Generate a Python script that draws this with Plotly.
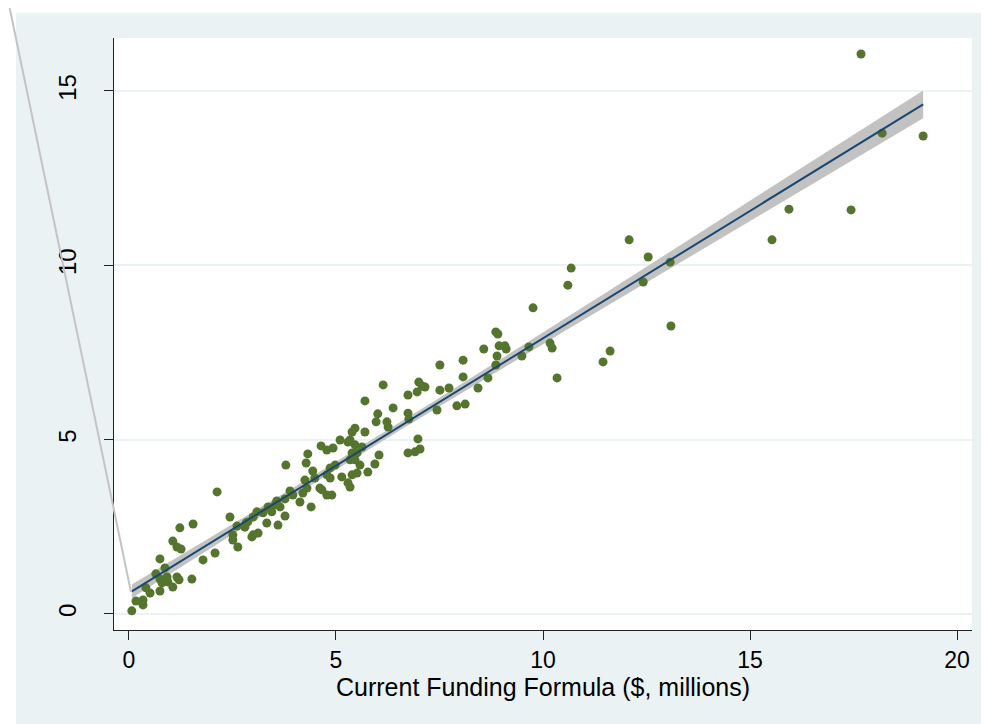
import numpy as np
import plotly.graph_objects as go

# Current Funding Formula ($, millions)
current_formula = [
    17.68, 18.19, 19.18, 15.94, 17.44, 15.53, 12.08, 12.54, 13.07, 12.42,
    13.09, 10.68, 10.60, 9.76, 10.17, 10.22, 11.62, 11.45, 10.34, 9.66,
    9.49, 8.86, 8.91, 8.57, 8.94, 9.08, 9.11, 8.89, 8.86, 7.51,
    8.07, 8.07, 8.67, 8.43, 7.51, 7.73, 7.92, 8.12, 7.44, 7.08,
    7.15, 7.00, 6.96, 6.74, 6.14, 5.70, 6.38, 6.74, 6.76, 6.01,
    5.97, 6.23, 6.26, 5.46, 5.70, 5.39, 5.29, 6.98, 6.74, 6.91,
    7.03, 6.04, 5.94, 5.77, 5.51, 5.10, 5.34, 5.46, 5.63, 4.93,
    4.78, 4.64, 5.39, 5.51, 5.34, 5.46, 5.58, 4.98, 4.86, 4.78,
    5.14, 5.39, 5.29, 5.34, 4.66, 4.78, 4.90, 3.79, 4.32, 4.28,
    4.44, 4.49, 4.25, 4.86, 4.61, 4.30, 4.20, 4.13, 4.40, 3.89,
    3.96, 3.77, 3.57, 3.53, 3.65, 3.36, 3.45, 3.09, 3.24, 3.77,
    2.83, 3.33, 3.60, 3.12, 3.00, 2.80, 2.87, 3.00, 2.97, 2.13,
    2.44, 2.61, 2.51, 2.51, 2.63, 1.55, 1.23, 1.06, 1.16, 1.26,
    2.08, 1.79, 0.75, 0.87, 0.65, 0.75, 0.92, 0.94, 0.80, 1.06,
    1.16, 1.21, 1.52, 0.75, 0.51, 0.41, 0.34, 0.34, 0.17, 0.07,
]
# Proposed funding ($, millions)
proposed_formula = [
    16.06, 13.79, 13.71, 11.61, 11.59, 10.73, 10.73, 10.24, 10.09, 9.52,
    8.26, 9.92, 9.43, 8.78, 7.77, 7.63, 7.54, 7.23, 6.77, 7.66,
    7.40, 8.09, 8.03, 7.60, 7.69, 7.69, 7.60, 7.40, 7.14, 7.14,
    7.28, 6.80, 6.77, 6.48, 6.42, 6.48, 5.97, 6.02, 5.85, 6.54,
    6.51, 6.65, 6.37, 6.28, 6.57, 6.11, 5.91, 5.76, 5.59, 5.74,
    5.51, 5.51, 5.36, 5.33, 5.22, 5.22, 4.93, 5.02, 4.62, 4.65,
    4.73, 4.56, 4.30, 4.07, 4.04, 4.99, 4.99, 4.85, 4.79, 4.76,
    4.70, 4.82, 4.62, 4.62, 4.42, 4.42, 4.27, 4.27, 4.19, 3.99,
    3.93, 3.99, 3.76, 3.64, 3.56, 3.41, 3.41, 4.27, 4.59, 4.33,
    4.10, 3.90, 3.84, 3.90, 3.61, 3.61, 3.47, 3.21, 3.07, 3.53,
    3.41, 3.30, 3.24, 3.13, 3.07, 3.07, 2.93, 2.93, 2.90, 2.81,
    2.61, 2.61, 2.55, 2.32, 2.27, 2.49, 2.64, 2.78, 2.21, 3.50,
    2.78, 2.52, 2.27, 2.12, 1.92, 2.58, 2.47, 2.09, 1.92, 1.86,
    1.75, 1.55, 1.58, 1.32, 1.15, 1.00, 1.06, 0.92, 0.89, 0.77,
    1.06, 0.98, 1.00, 0.66, 0.60, 0.75, 0.40, 0.26, 0.37, 0.09,
]

x_ticks = [0, 5, 10, 15, 20]
y_ticks = [0, 5, 10, 15]
x_title = "Current Funding Formula ($, millions)"

# linear fit with 95% CI of the mean prediction (as Stata's lfitci)
x = np.array(current_formula)
y = np.array(proposed_formula)
n = len(x)
b1, b0 = np.polyfit(x, y, 1)
resid = y - (b0 + b1 * x)
s = np.sqrt(np.sum(resid ** 2) / (n - 2))
xg = np.linspace(x.min(), x.max(), 100)
yg = b0 + b1 * xg
se = s * np.sqrt(1 / n + (xg - x.mean()) ** 2 / np.sum((x - x.mean()) ** 2))
tval = 1.976
upper = yg + tval * se
lower = yg - tval * se

BG = "#eaf2f3"
fig = go.Figure()
fig.add_trace(go.Scatter(
    x=np.concatenate([xg, xg[::-1]]), y=np.concatenate([upper, lower[::-1]]),
    fill="toself", fillcolor="#c2c2c2", line=dict(width=0), mode="lines",
    hoverinfo="skip", showlegend=False))
fig.add_trace(go.Scatter(
    x=x, y=y, mode="markers",
    marker=dict(color="#55752f", size=9, line=dict(width=0)),
    showlegend=False))
fig.add_trace(go.Scatter(
    x=xg, y=yg, mode="lines", line=dict(color="#1a476f", width=2),
    showlegend=False))

FONT = "Liberation Sans, Arial, sans-serif"
fig.update_layout(
    width=981, height=716,
    margin=dict(l=106, r=17, t=30, b=94),
    paper_bgcolor=BG, plot_bgcolor="white",
    font=dict(family=FONT, color="black"),
    showlegend=False,
    xaxis=dict(
        range=[-0.36, 20.36], tickvals=x_ticks, showgrid=False, zeroline=False,
        showline=True, linecolor="#222", linewidth=1,
        ticks="outside", ticklen=9, tickcolor="#222",
        tickfont=dict(size=23),
        title=dict(text=x_title, font=dict(size=25), standoff=4),
    ),
    yaxis=dict(
        range=[-0.46, 16.52], tickvals=y_ticks, showgrid=True,
        gridcolor=BG, gridwidth=2, zeroline=False,
        showline=True, linecolor="#222", linewidth=1,
        ticks="outside", ticklen=9, tickcolor="#222",
        tickfont=dict(size=24), tickangle=-90, ticklabelstandoff=18,
    ),
    shapes=[
        dict(type="rect", xref="paper", yref="paper", x0=-0.13, x1=-0.1142,
             y0=-0.17, y1=1.06, fillcolor="white", line=dict(width=0), layer="above"),
        dict(type="rect", xref="paper", yref="paper", x0=-0.13, x1=1.03,
             y0=1.0422, y1=1.06, fillcolor="white", line=dict(width=0), layer="above"),
        dict(type="line", xref="paper", yref="paper", x0=-0.1216, y0=1.0507,
             x1=0.0198, y1=0.0642, line=dict(color="#c4c4c4", width=2), layer="above"),
    ],
)

fig.write_html("out.html")
